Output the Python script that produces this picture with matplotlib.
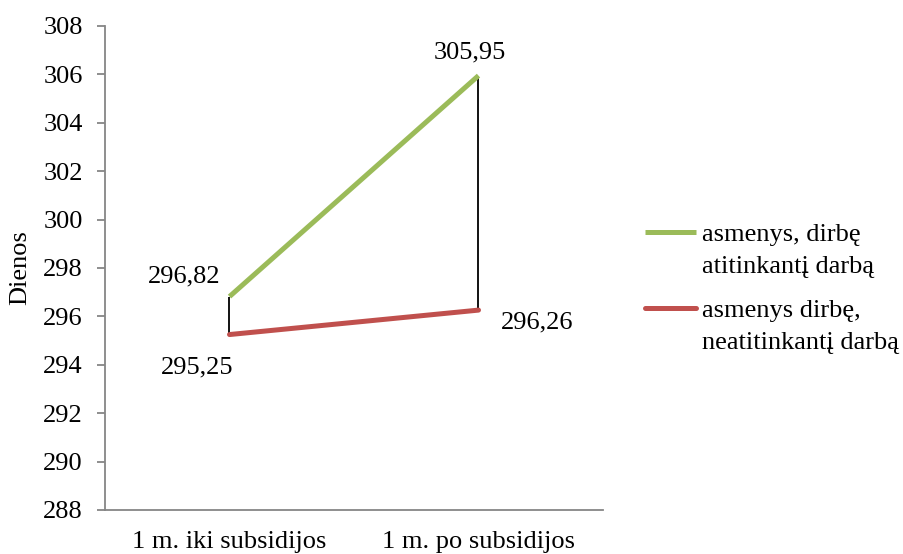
import matplotlib.pyplot as plt
from matplotlib.lines import Line2D

plt.rcParams['font.family'] = ['Liberation Serif', 'DejaVu Serif']

# dados
kategorijos = ["1 m. iki subsidijos", "1 m. po subsidijos"]
atitinkantis = [296.82, 305.95]
neatitinkantis = [295.25, 296.26]
pavadinimai = ["asmenys, dirbę\natitinkantį darbą", "asmenys dirbę,\nneatitinkantį darbą"]
spalvos = ['#9BBB59', '#C0504D']
y_ticks = list(range(288, 309, 2))

FS = 19
fig = plt.figure(figsize=(9.04, 5.54), dpi=100)
ax = fig.add_axes([105 / 904, 44 / 554, 498 / 904, 484 / 554])

x = range(len(kategorijos))

# high-low linijos
ax.vlines(x, neatitinkantis, atitinkantis, color='black', linewidth=1.3, zorder=2)

ax.plot(x, atitinkantis, color=spalvos[0], linewidth=3.6, solid_capstyle='butt', zorder=3)
ax.plot(x, neatitinkantis, color=spalvos[1], linewidth=3.6, solid_capstyle='round', zorder=3)

ax.set_xlim(-0.5, 1.5)
ax.set_ylim(288, 308)
ax.set_yticks(y_ticks)
ax.set_yticklabels([str(t) for t in y_ticks], fontsize=FS)
ax.set_xticks(list(x))
ax.set_xticklabels(kategorijos, fontsize=FS)
ax.tick_params(axis='x', length=0, pad=15)
ax.tick_params(axis='y', length=6, width=1.3, color='#868686', direction='out', pad=10)
ax.set_ylabel("Dienos", fontsize=FS, va='center')
ax.yaxis.set_label_coords(-0.17, 0.5)

for s in ['top', 'right']:
    ax.spines[s].set_visible(False)
for s in ['left', 'bottom']:
    ax.spines[s].set_color('#868686')
    ax.spines[s].set_linewidth(1.3)

# reikšmių etiketės
fmt = lambda v: f"{v:.2f}".replace('.', ',')
ax.annotate(fmt(atitinkantis[0]), (0, atitinkantis[0]), xytext=(-6.5, 14.4), textcoords='offset points',
            ha='right', va='center', fontsize=FS)
ax.annotate(fmt(neatitinkantis[0]), (0, neatitinkantis[0]), xytext=(-23, -24), textcoords='offset points',
            ha='center', va='center', fontsize=FS)
ax.annotate(fmt(atitinkantis[1]), (1, atitinkantis[1]), xytext=(-6.5, 17), textcoords='offset points',
            ha='center', va='center', fontsize=FS)
ax.annotate(fmt(neatitinkantis[1]), (1, neatitinkantis[1]), xytext=(16, -8.6), textcoords='offset points',
            ha='left', va='center', fontsize=FS)

# legenda (kaip Excel: linija prie pirmos eilutės)
leg_y = [232, 308]
for i in range(2):
    yf = 1 - leg_y[i] / 554
    fig.add_artist(Line2D([645 / 904, 696 / 904], [yf, yf], color=spalvos[i], linewidth=3.6,
                          solid_capstyle='butt' if i == 0 else 'round', transform=fig.transFigure))
    for k, eil in enumerate(pavadinimai[i].split('\n')):
        fig.text(702 / 904, 1 - (leg_y[i] + 32 * k) / 554, eil, fontsize=FS, ha='left',
                 va='center_baseline')

fig.savefig('out.png', dpi=100)
